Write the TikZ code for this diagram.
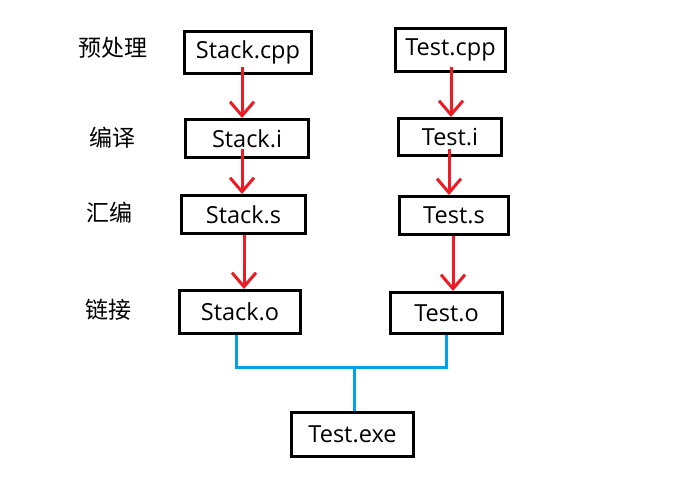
\documentclass[tikz,border=0pt]{standalone}
\usepackage{fontspec}
\setmainfont{Open Sans}
\newfontfamily\cjk{Noto Sans CJK SC}
\usetikzlibrary{arrows.meta,calc}
\definecolor{arrred}{RGB}{237,28,36}
\definecolor{linkblue}{RGB}{0,162,232}
\begin{document}
\begin{tikzpicture}[x=1pt,y=-1pt,
  filebox/.style={draw=black,line width=3pt,inner sep=0pt,font=\fontsize{23.5}{28}\selectfont},
  stagelabel/.style={inner sep=0pt,font=\cjk\fontsize{23}{27}\selectfont},
  arr/.style={draw=arrred,line width=3pt,-{Straight Barb[length=14pt,width=24pt,line width=3pt]}},
  linkline/.style={draw=linkblue,line width=3pt}]
\useasboundingbox (0,0) rectangle (690,487);
% stage labels
\node[stagelabel] (l1) at (113,48) {预处理};
\node[stagelabel] (l2) at (112,138) {编译};
\node[stagelabel] (l3) at (109,213) {汇编};
\node[stagelabel] (l4) at (108,310) {链接};
% file boxes
\node[filebox,minimum width=127pt,minimum height=42pt] (sc) at (248,52.5) {Stack.cpp};
\node[filebox,minimum width=110pt,minimum height=43pt] (tc) at (450.5,50) {Test.cpp};
\node[filebox,minimum width=123pt,minimum height=38pt] (si) at (247,138.5) {Stack.i};
\node[filebox,minimum width=103pt,minimum height=37pt] (ti) at (450,137) {Test.i};
\node[filebox,minimum width=124pt,minimum height=38pt] (ss) at (243.5,214.5) {Stack.s};
\node[filebox,minimum width=109pt,minimum height=38pt] (ts) at (454,215.5) {Test.s};
\node[filebox,minimum width=121pt,minimum height=43pt] (so) at (240,312) {Stack.o};
\node[filebox,minimum width=112pt,minimum height=41pt] (to) at (446.5,313) {Test.o};
\node[filebox,minimum width=122pt,minimum height=44pt] (te) at (352.5,434.5) {Test.exe};
% red arrows
\draw[arr] ([xshift=-6pt,yshift=8pt]sc.south) -- ([xshift=-6pt]sc.south |- si.north);
\draw[arr] ([xshift=0.5pt,yshift=6pt]tc.south) -- ([xshift=0.5pt]tc.south |- ti.north);
\draw[arr] ([xshift=-5pt,yshift=10pt]si.south) -- ([xshift=-5pt]si.south |- ss.north);
\draw[arr] ([xshift=-1pt,yshift=8pt]ti.south) -- ([xshift=-1pt]ti.south |- ts.north);
\draw[arr] ([xshift=0.5pt]ss.south) -- ([xshift=0.5pt]ss.south |- so.north);
\draw[arr] ([xshift=-1pt]ts.south) -- ([xshift=-1pt]ts.south |- to.north);
% blue link lines
\coordinate (jl) at ([xshift=-4pt]so.south |- 0,367);
\coordinate (jr) at ([xshift=-0.5pt]to.south |- 0,367);
\coordinate (jc) at ([xshift=1.5pt]te.north |- 0,367);
\draw[linkline] ([xshift=-4pt]so.south) -- (jl) -- (jr) -- ([xshift=-0.5pt]to.south);
\draw[linkline] (jc) -- ([xshift=1.5pt]te.north);
\end{tikzpicture}
\end{document}
